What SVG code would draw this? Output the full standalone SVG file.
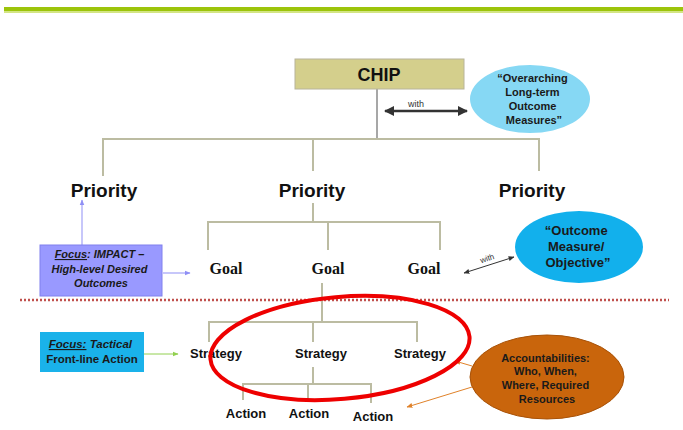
<svg xmlns="http://www.w3.org/2000/svg" width="683" height="430" viewBox="0 0 683 430">
  <style>
    .tree { fill: none; stroke: #bcbca2; stroke-width: 2; }
    .lbl { font-family: "Liberation Sans", Arial, sans-serif; font-weight: bold; fill: #111; text-anchor: middle; }
    .goal { font-family: "Liberation Serif", "Times New Roman", serif; font-weight: bold; font-size: 16px; fill: #111; text-anchor: middle; }
    .small { font-family: "Liberation Sans", Arial, sans-serif; font-weight: bold; fill: #1a1a1a; text-anchor: middle; }
    .with { font-family: "Liberation Sans", Arial, sans-serif; font-weight: normal; fill: #333; text-anchor: middle; }
  </style>
  <defs>
    <marker id="headDark" viewBox="0 0 10 10" refX="9" refY="5" markerWidth="4" markerHeight="4" orient="auto-start-reverse">
      <path d="M0,0 L10,5 L0,10 z" fill="#333"/>
    </marker>
    <marker id="headThin" viewBox="0 0 10 10" refX="9" refY="5" markerWidth="6" markerHeight="6" orient="auto-start-reverse">
      <path d="M0,1 L10,5 L0,9 z" fill="#333"/>
    </marker>
    <marker id="headPurple" viewBox="0 0 10 10" refX="9" refY="5" markerWidth="6" markerHeight="6" orient="auto">
      <path d="M0,1 L10,5 L0,9 z" fill="#8f8ff5"/>
    </marker>
    <marker id="headGreen" viewBox="0 0 10 10" refX="9" refY="5" markerWidth="6" markerHeight="6" orient="auto">
      <path d="M0,1 L10,5 L0,9 z" fill="#92d050"/>
    </marker>
    <marker id="headOrange" viewBox="0 0 10 10" refX="9" refY="5" markerWidth="6" markerHeight="6" orient="auto">
      <path d="M0,1 L10,5 L0,9 z" fill="#e0822a"/>
    </marker>
  </defs>

  <rect width="683" height="430" fill="#ffffff"/>

  <!-- header rule -->
  <rect x="4" y="7" width="679" height="4" fill="#9cc40a"/>
  <rect x="4" y="11" width="679" height="2" fill="#d3e584"/>

  <!-- section divider -->
  <line x1="20" y1="300" x2="669" y2="300" stroke="#c0504d" stroke-width="2.5" stroke-dasharray="2 2"/>

  <g id="connectors">
    <line x1="377" y1="89" x2="377" y2="139" stroke="#8a8a8a" stroke-width="1.5"/>
    <path class="tree" d="M103,176 V139 H539 V171 M313,139 V171"/>
    <path class="tree" d="M313,203 V222 M208,250 V222 H440 V250 M328,222 V250"/>
    <path class="tree" d="M322,283 V322 M209,342 V322 H417 V342 M313,322 V342"/>
    <path class="tree" d="M313,367 V384 M243,400 V384 H371 V403 M308,384 V399"/>
    <!-- with: CHIP to long-term measures -->
    <line x1="385" y1="111" x2="467" y2="111" stroke="#333" stroke-width="2.5" marker-start="url(#headDark)" marker-end="url(#headDark)"/>
    <text x="416" y="107" class="with" font-size="9">with</text>
    <!-- with: goal to outcome measure -->
    <line x1="464" y1="273" x2="514" y2="257" stroke="#333" stroke-width="1" marker-start="url(#headThin)" marker-end="url(#headThin)"/>
    <text x="0" y="0" class="with" font-size="8" transform="translate(488,261) rotate(-18)">with</text>
    <!-- focus arrows -->
    <line x1="82" y1="245" x2="82" y2="200" stroke="#8f8ff5" stroke-width="1" marker-end="url(#headPurple)"/>
    <line x1="163" y1="273" x2="190" y2="273" stroke="#8f8ff5" stroke-width="1" marker-end="url(#headPurple)"/>
    <line x1="144" y1="354" x2="178" y2="354" stroke="#92d050" stroke-width="1" marker-end="url(#headGreen)"/>
    <!-- accountabilities arrows -->
    <line x1="472" y1="366" x2="455" y2="361" stroke="#e0822a" stroke-width="1" marker-end="url(#headOrange)"/>
    <line x1="472" y1="387" x2="407" y2="407" stroke="#e0822a" stroke-width="1" marker-end="url(#headOrange)"/>
  </g>

  <g id="chip">
    <rect x="295" y="59" width="169" height="30" fill="#d4cf8c" stroke="#b8b49a" stroke-width="1"/>
    <text x="379" y="81" class="lbl" font-size="18">CHIP</text>
  </g>

  <g id="long-term-measures">
    <ellipse cx="530" cy="99" rx="60" ry="34" fill="#86d8f4"/>
    <text class="small" font-size="11">
      <tspan x="534" y="82">“Overarching</tspan>
      <tspan x="534" y="96">Long-term</tspan>
      <tspan x="534" y="110">Outcome</tspan>
      <tspan x="534" y="124">Measures”</tspan>
    </text>
  </g>

  <g id="priorities">
    <text x="104" y="197" class="lbl" font-size="19">Priority</text>
    <text x="312" y="197" class="lbl" font-size="19">Priority</text>
    <text x="532" y="197" class="lbl" font-size="19">Priority</text>
  </g>

  <g id="goals">
    <text x="226" y="274" class="goal">Goal</text>
    <text x="328" y="274" class="goal">Goal</text>
    <text x="424" y="274" class="goal">Goal</text>
  </g>

  <g id="outcome-measure">
    <ellipse cx="579" cy="247" rx="64" ry="36" fill="#12b0ec"/>
    <text class="small" font-size="13">
      <tspan x="578" y="235">“Outcome</tspan>
      <tspan x="578" y="251">Measure/</tspan>
      <tspan x="578" y="267">Objective”</tspan>
    </text>
  </g>

  <g id="focus-impact">
    <rect x="40" y="245" width="122" height="51" fill="#9999ff" stroke="#8080ee" stroke-width="1"/>
    <text class="small" font-size="11" font-style="italic" fill="#1c1c50">
      <tspan x="101" y="258"><tspan text-decoration="underline">Focus</tspan>: IMPACT –</tspan>
      <tspan x="101" y="273">High-level Desired</tspan>
      <tspan x="101" y="287">Outcomes</tspan>
    </text>
  </g>

  <g id="focus-tactical">
    <rect x="40" y="332" width="104" height="40" fill="#1ab2ea"/>
    <text class="small" font-size="11.5" fill="#14141e">
      <tspan x="92" y="348" font-style="italic"><tspan text-decoration="underline">Focus:</tspan> Tactical</tspan>
      <tspan x="92" y="363">Front-line Action</tspan>
    </text>
  </g>

  <g id="strategies">
    <text x="216" y="358" class="lbl" font-size="13">Strategy</text>
    <text x="321" y="358" class="lbl" font-size="13">Strategy</text>
    <text x="420" y="358" class="lbl" font-size="13">Strategy</text>
  </g>

  <g id="actions">
    <text x="246" y="418" class="lbl" font-size="13">Action</text>
    <text x="309" y="418" class="lbl" font-size="13">Action</text>
    <text x="373" y="421" class="lbl" font-size="13">Action</text>
  </g>

  <g id="accountabilities">
    <ellipse cx="547" cy="377" rx="77" ry="42" fill="#c9650c" stroke="#a85208" stroke-width="1"/>
    <text class="small" font-size="11" fill="#1a1008">
      <tspan x="547" y="362">Accountabilities:</tspan>
      <tspan x="547" y="375">Who, When,</tspan>
      <tspan x="547" y="389">Where, Required</tspan>
      <tspan x="547" y="403">Resources</tspan>
    </text>
  </g>

  <g id="strategy-highlight">
    <ellipse cx="340" cy="348" rx="130" ry="51" transform="rotate(-5 340 348)" fill="none" stroke="#ee0000" stroke-width="4"/>
  </g>
</svg>
